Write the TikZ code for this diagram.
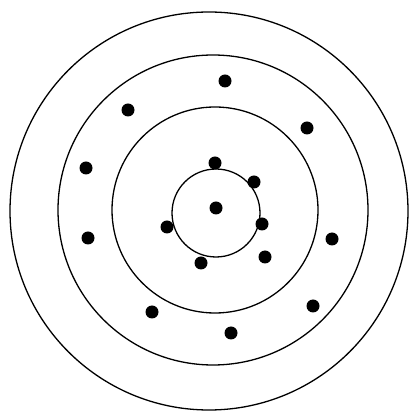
\documentclass[tikz,border=0pt]{standalone}
\usepackage{tikz}
\usetikzlibrary{positioning}

\begin{document}
\begin{tikzpicture}[
            x=1pt,
            y=-1pt,
            ring/.style={draw=black, line width=1.3pt},
            dot/.style={circle, fill=black, inner sep=0pt, minimum size=13pt}
        ]
        \useasboundingbox (0,0) rectangle (418,411);
        
        % Define rings
        \draw[ring] (209,211) circle[radius=199];
        \draw[ring] (213,210) circle[radius=155];
        \draw[ring] (215,210) circle[radius=103];
        \draw[ring] (216,213) circle[radius=44];
        
        % Place dots
        \node[dot] (nucleus) at (216,208) {};
        \node[dot] (a1) at (215,163) {};
        \node[dot] (a2) at (254,182) {};
        \node[dot] (a3) at (262,224) {};
        \node[dot] (a4) at (265,257) {};
        \node[dot] (a5) at (201,263) {};
        \node[dot] (a6) at (167,227) {};
        \node[dot] (b1) at (225,81) {};
        \node[dot] (b2) at (307,128) {};
        \node[dot] (b3) at (332,239) {};
        \node[dot] (b4) at (313,306) {};
        \node[dot] (b5) at (231,333) {};
        \node[dot] (b6) at (152,312) {};
        \node[dot] (b7) at (88,238) {};
        \node[dot] (b8) at (86,168) {};
        \node[dot] (b9) at (128,110) {};
        \end{tikzpicture}
\end{document}
